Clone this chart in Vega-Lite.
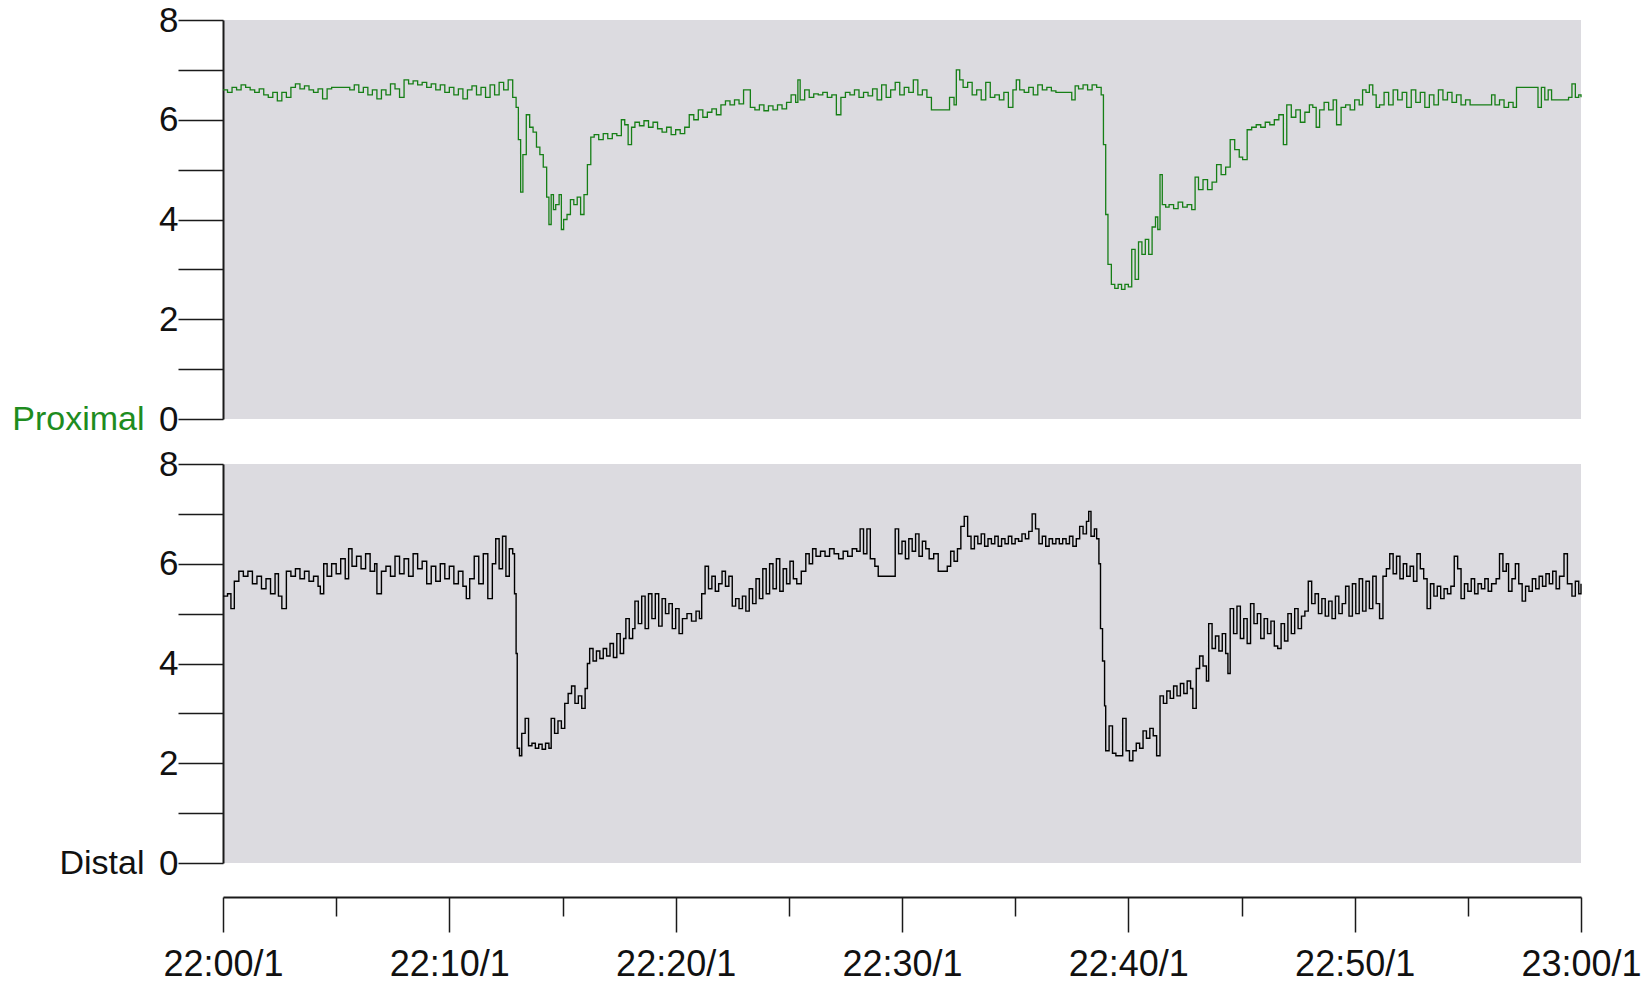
{
  "$schema": "https://vega.github.io/schema/vega-lite/v6.json",
  "padding": {"left": 11, "top": 3, "right": 5, "bottom": 0},
  "background": "white",
  "spacing": 45,
  "bounds": "flush",
  "config": {
    "view": {"fill": "#dcdbe0", "stroke": null},
    "axis": {"labelFont": "Liberation Sans", "titleFont": "Liberation Sans", "grid": false}
  },
  "datasets": {
    "prox": [
      {"t":0,"v":6.6},{"t":0.2,"v":6.55},{"t":0.4,"v":6.65},{"t":0.6,"v":6.6},{"t":0.8,"v":6.7},{"t":1.0,"v":6.65},{"t":1.2,"v":6.6},{"t":1.4,"v":6.55},{"t":1.6,"v":6.62},{"t":1.8,"v":6.5},
      {"t":2.0,"v":6.45},{"t":2.2,"v":6.55},{"t":2.4,"v":6.38},{"t":2.6,"v":6.55},{"t":2.8,"v":6.45},{"t":3.0,"v":6.65},{"t":3.2,"v":6.72},{"t":3.4,"v":6.62},{"t":3.6,"v":6.68},{"t":3.8,"v":6.6},
      {"t":4.0,"v":6.55},{"t":4.2,"v":6.62},{"t":4.4,"v":6.42},{"t":4.6,"v":6.62},{"t":4.8,"v":6.65},{"t":5.0,"v":6.65},{"t":5.2,"v":6.65},{"t":5.4,"v":6.65},{"t":5.6,"v":6.6},{"t":5.8,"v":6.7},
      {"t":6.0,"v":6.55},{"t":6.2,"v":6.65},{"t":6.4,"v":6.5},{"t":6.6,"v":6.6},{"t":6.8,"v":6.42},{"t":7.0,"v":6.6},{"t":7.2,"v":6.5},{"t":7.4,"v":6.72},{"t":7.6,"v":6.62},{"t":7.8,"v":6.45},
      {"t":8.0,"v":6.8},{"t":8.2,"v":6.72},{"t":8.4,"v":6.78},{"t":8.6,"v":6.7},{"t":8.8,"v":6.75},{"t":9.0,"v":6.65},{"t":9.2,"v":6.72},{"t":9.4,"v":6.6},{"t":9.6,"v":6.7},{"t":9.8,"v":6.55},
      {"t":10.0,"v":6.65},{"t":10.2,"v":6.5},{"t":10.4,"v":6.62},{"t":10.6,"v":6.42},{"t":10.8,"v":6.6},{"t":11.0,"v":6.68},{"t":11.2,"v":6.5},{"t":11.4,"v":6.65},{"t":11.6,"v":6.45},{"t":11.8,"v":6.7},
      {"t":12.0,"v":6.5},{"t":12.2,"v":6.75},{"t":12.4,"v":6.6},{"t":12.6,"v":6.8},{"t":12.8,"v":6.45},{"t":12.95,"v":6.25},{"t":13.05,"v":5.6},{"t":13.15,"v":4.55},{"t":13.25,"v":5.3},{"t":13.4,"v":6.1},
      {"t":13.55,"v":5.85},{"t":13.7,"v":5.75},{"t":13.85,"v":5.45},{"t":14.0,"v":5.3},{"t":14.15,"v":5.05},{"t":14.3,"v":4.45},{"t":14.4,"v":3.9},{"t":14.5,"v":4.5},{"t":14.6,"v":4.2},{"t":14.7,"v":4.3},
      {"t":14.85,"v":4.5},{"t":14.95,"v":3.8},{"t":15.05,"v":4.0},{"t":15.2,"v":4.1},{"t":15.35,"v":4.4},{"t":15.5,"v":4.3},{"t":15.65,"v":4.45},{"t":15.8,"v":4.1},{"t":15.95,"v":4.5},{"t":16.1,"v":5.1},
      {"t":16.25,"v":5.65},{"t":16.4,"v":5.7},{"t":16.6,"v":5.6},{"t":16.8,"v":5.72},{"t":17.0,"v":5.62},{"t":17.2,"v":5.72},{"t":17.4,"v":5.68},{"t":17.6,"v":6.0},{"t":17.75,"v":5.9},{"t":17.9,"v":5.5},
      {"t":18.05,"v":5.85},{"t":18.2,"v":5.95},{"t":18.4,"v":5.88},{"t":18.6,"v":5.98},{"t":18.8,"v":5.85},{"t":19.0,"v":5.95},{"t":19.2,"v":5.82},{"t":19.4,"v":5.75},{"t":19.6,"v":5.85},{"t":19.8,"v":5.7},
      {"t":20.0,"v":5.8},{"t":20.2,"v":5.72},{"t":20.4,"v":5.85},{"t":20.6,"v":6.1},{"t":20.8,"v":6.0},{"t":21.0,"v":6.2},{"t":21.2,"v":6.05},{"t":21.4,"v":6.15},{"t":21.6,"v":6.22},{"t":21.8,"v":6.1},
      {"t":22.0,"v":6.3},{"t":22.2,"v":6.38},{"t":22.4,"v":6.3},{"t":22.6,"v":6.4},{"t":22.8,"v":6.32},{"t":23.0,"v":6.6},{"t":23.15,"v":6.6},{"t":23.3,"v":6.25},{"t":23.5,"v":6.2},{"t":23.7,"v":6.3},
      {"t":23.9,"v":6.18},{"t":24.1,"v":6.28},{"t":24.3,"v":6.2},{"t":24.5,"v":6.3},{"t":24.7,"v":6.22},{"t":24.9,"v":6.35},{"t":25.1,"v":6.5},{"t":25.3,"v":6.35},{"t":25.4,"v":6.8},{"t":25.5,"v":6.4},
      {"t":25.7,"v":6.6},{"t":25.9,"v":6.45},{"t":26.1,"v":6.52},{"t":26.3,"v":6.5},{"t":26.5,"v":6.55},{"t":26.7,"v":6.45},{"t":26.9,"v":6.5},{"t":27.1,"v":6.1},{"t":27.3,"v":6.45},{"t":27.5,"v":6.55},
      {"t":27.7,"v":6.5},{"t":27.9,"v":6.6},{"t":28.1,"v":6.45},{"t":28.3,"v":6.55},{"t":28.5,"v":6.48},{"t":28.7,"v":6.62},{"t":28.9,"v":6.4},{"t":29.1,"v":6.7},{"t":29.3,"v":6.45},{"t":29.5,"v":6.6},
      {"t":29.7,"v":6.75},{"t":29.9,"v":6.5},{"t":30.1,"v":6.65},{"t":30.3,"v":6.55},{"t":30.5,"v":6.8},{"t":30.7,"v":6.5},{"t":30.9,"v":6.6},{"t":31.1,"v":6.45},{"t":31.3,"v":6.2},{"t":31.5,"v":6.2},
      {"t":31.7,"v":6.2},{"t":31.9,"v":6.2},{"t":32.1,"v":6.45},{"t":32.3,"v":6.3},{"t":32.4,"v":7.0},{"t":32.55,"v":6.8},{"t":32.7,"v":6.65},{"t":32.9,"v":6.75},{"t":33.1,"v":6.5},{"t":33.3,"v":6.6},
      {"t":33.5,"v":6.4},{"t":33.7,"v":6.75},{"t":33.9,"v":6.45},{"t":34.1,"v":6.5},{"t":34.3,"v":6.4},{"t":34.5,"v":6.55},{"t":34.7,"v":6.25},{"t":34.9,"v":6.6},{"t":35.05,"v":6.8},{"t":35.2,"v":6.6},
      {"t":35.4,"v":6.55},{"t":35.6,"v":6.65},{"t":35.8,"v":6.5},{"t":36.0,"v":6.7},{"t":36.2,"v":6.6},{"t":36.4,"v":6.65},{"t":36.6,"v":6.58},{"t":36.8,"v":6.55},{"t":37.0,"v":6.55},{"t":37.2,"v":6.55},
      {"t":37.4,"v":6.55},{"t":37.5,"v":6.4},{"t":37.65,"v":6.68},{"t":37.8,"v":6.62},{"t":38.0,"v":6.7},{"t":38.2,"v":6.6},{"t":38.4,"v":6.7},{"t":38.6,"v":6.65},{"t":38.8,"v":6.5},{"t":38.9,"v":5.5},
      {"t":39.0,"v":4.1},{"t":39.1,"v":3.1},{"t":39.25,"v":2.7},{"t":39.4,"v":2.62},{"t":39.55,"v":2.7},{"t":39.7,"v":2.6},{"t":39.85,"v":2.7},{"t":40.0,"v":2.65},{"t":40.15,"v":3.4},{"t":40.3,"v":2.8},
      {"t":40.45,"v":3.55},{"t":40.6,"v":3.3},{"t":40.75,"v":3.6},{"t":40.9,"v":3.3},{"t":41.05,"v":3.85},{"t":41.2,"v":4.05},{"t":41.3,"v":3.8},{"t":41.4,"v":4.9},{"t":41.5,"v":4.3},{"t":41.65,"v":4.25},
      {"t":41.8,"v":4.3},{"t":42.0,"v":4.22},{"t":42.2,"v":4.35},{"t":42.4,"v":4.25},{"t":42.6,"v":4.3},{"t":42.8,"v":4.2},{"t":42.95,"v":4.85},{"t":43.1,"v":4.6},{"t":43.3,"v":4.8},{"t":43.5,"v":4.6},
      {"t":43.7,"v":4.75},{"t":43.9,"v":5.1},{"t":44.1,"v":4.9},{"t":44.3,"v":5.05},{"t":44.5,"v":5.6},{"t":44.7,"v":5.4},{"t":44.9,"v":5.25},{"t":45.05,"v":5.2},{"t":45.25,"v":5.8},{"t":45.45,"v":5.85},
      {"t":45.65,"v":5.9},{"t":45.85,"v":5.85},{"t":46.05,"v":5.95},{"t":46.25,"v":5.9},{"t":46.45,"v":6.0},{"t":46.65,"v":6.1},{"t":46.85,"v":5.5},{"t":47.0,"v":6.3},{"t":47.2,"v":6.05},{"t":47.4,"v":6.2},
      {"t":47.6,"v":5.95},{"t":47.8,"v":6.15},{"t":48.0,"v":6.3},{"t":48.15,"v":6.25},{"t":48.3,"v":5.85},{"t":48.45,"v":6.2},{"t":48.65,"v":6.35},{"t":48.85,"v":6.2},{"t":49.05,"v":6.4},{"t":49.2,"v":5.9},
      {"t":49.4,"v":6.25},{"t":49.6,"v":6.3},{"t":49.8,"v":6.2},{"t":50.0,"v":6.4},{"t":50.2,"v":6.3},{"t":50.35,"v":6.6},{"t":50.5,"v":6.55},{"t":50.65,"v":6.7},{"t":50.8,"v":6.5},{"t":50.95,"v":6.25},
      {"t":51.1,"v":6.3},{"t":51.3,"v":6.55},{"t":51.5,"v":6.3},{"t":51.7,"v":6.6},{"t":51.9,"v":6.4},{"t":52.1,"v":6.55},{"t":52.3,"v":6.25},{"t":52.5,"v":6.6},{"t":52.7,"v":6.35},{"t":52.9,"v":6.55},
      {"t":53.1,"v":6.25},{"t":53.3,"v":6.5},{"t":53.5,"v":6.3},{"t":53.7,"v":6.6},{"t":53.9,"v":6.4},{"t":54.1,"v":6.55},{"t":54.3,"v":6.35},{"t":54.5,"v":6.5},{"t":54.7,"v":6.3},{"t":54.9,"v":6.4},
      {"t":55.1,"v":6.3},{"t":55.3,"v":6.3},{"t":55.5,"v":6.3},{"t":55.7,"v":6.3},{"t":55.9,"v":6.3},{"t":56.05,"v":6.5},{"t":56.2,"v":6.3},{"t":56.4,"v":6.4},{"t":56.6,"v":6.25},{"t":56.8,"v":6.35},
      {"t":57.0,"v":6.25},{"t":57.15,"v":6.65},{"t":57.35,"v":6.65},{"t":57.55,"v":6.65},{"t":57.75,"v":6.65},{"t":57.95,"v":6.65},{"t":58.1,"v":6.25},{"t":58.25,"v":6.65},{"t":58.4,"v":6.4},{"t":58.55,"v":6.6},
      {"t":58.7,"v":6.4},{"t":58.85,"v":6.4},{"t":59.05,"v":6.4},{"t":59.25,"v":6.4},{"t":59.45,"v":6.45},{"t":59.6,"v":6.72},{"t":59.75,"v":6.45},{"t":59.9,"v":6.5},{"t":60.0,"v":6.45}
    ],
    "dist": [
      {"t":0,"v":5.35},{"t":0.2,"v":5.4},{"t":0.35,"v":5.1},{"t":0.5,"v":5.65},{"t":0.7,"v":5.85},{"t":0.9,"v":5.75},{"t":1.1,"v":5.85},{"t":1.3,"v":5.6},{"t":1.5,"v":5.75},{"t":1.7,"v":5.5},
      {"t":1.9,"v":5.7},{"t":2.1,"v":5.4},{"t":2.3,"v":5.8},{"t":2.45,"v":5.35},{"t":2.6,"v":5.1},{"t":2.8,"v":5.85},{"t":3.0,"v":5.75},{"t":3.2,"v":5.9},{"t":3.4,"v":5.7},{"t":3.6,"v":5.85},
      {"t":3.8,"v":5.65},{"t":4.0,"v":5.75},{"t":4.2,"v":5.55},{"t":4.3,"v":5.4},{"t":4.45,"v":6.0},{"t":4.6,"v":5.75},{"t":4.8,"v":6.0},{"t":5.0,"v":5.8},{"t":5.2,"v":6.1},{"t":5.4,"v":5.7},
      {"t":5.55,"v":6.3},{"t":5.7,"v":5.95},{"t":5.9,"v":6.15},{"t":6.1,"v":5.9},{"t":6.3,"v":6.2},{"t":6.5,"v":5.85},{"t":6.7,"v":6.0},{"t":6.8,"v":5.4},{"t":7.0,"v":5.85},{"t":7.2,"v":5.95},
      {"t":7.4,"v":5.75},{"t":7.6,"v":6.15},{"t":7.8,"v":5.8},{"t":8.0,"v":6.1},{"t":8.2,"v":5.75},{"t":8.4,"v":6.2},{"t":8.6,"v":5.9},{"t":8.8,"v":6.05},{"t":9.0,"v":5.6},{"t":9.2,"v":5.95},
      {"t":9.4,"v":5.65},{"t":9.6,"v":6.0},{"t":9.8,"v":5.7},{"t":10.0,"v":5.95},{"t":10.2,"v":5.6},{"t":10.4,"v":5.85},{"t":10.6,"v":5.55},{"t":10.75,"v":5.3},{"t":10.9,"v":5.7},{"t":11.1,"v":6.15},
      {"t":11.3,"v":5.6},{"t":11.5,"v":6.2},{"t":11.7,"v":5.3},{"t":11.9,"v":6.0},{"t":12.05,"v":6.5},{"t":12.2,"v":5.9},{"t":12.35,"v":6.55},{"t":12.5,"v":5.75},{"t":12.65,"v":6.3},{"t":12.8,"v":6.2},
      {"t":12.88,"v":5.4},{"t":12.95,"v":4.2},{"t":13.0,"v":2.3},{"t":13.1,"v":2.15},{"t":13.2,"v":2.6},{"t":13.35,"v":2.9},{"t":13.5,"v":2.35},{"t":13.65,"v":2.4},{"t":13.8,"v":2.3},{"t":13.95,"v":2.38},
      {"t":14.1,"v":2.28},{"t":14.25,"v":2.4},{"t":14.4,"v":2.3},{"t":14.5,"v":2.9},{"t":14.65,"v":2.6},{"t":14.8,"v":2.85},{"t":14.95,"v":2.7},{"t":15.1,"v":3.2},{"t":15.25,"v":3.4},{"t":15.4,"v":3.55},
      {"t":15.55,"v":3.2},{"t":15.7,"v":3.35},{"t":15.85,"v":3.1},{"t":16.0,"v":3.5},{"t":16.1,"v":4.0},{"t":16.2,"v":4.3},{"t":16.35,"v":4.05},{"t":16.5,"v":4.25},{"t":16.65,"v":4.1},{"t":16.8,"v":4.3},
      {"t":16.95,"v":4.15},{"t":17.1,"v":4.4},{"t":17.25,"v":4.12},{"t":17.4,"v":4.6},{"t":17.55,"v":4.2},{"t":17.7,"v":4.5},{"t":17.8,"v":4.9},{"t":17.95,"v":4.5},{"t":18.1,"v":4.7},{"t":18.2,"v":5.25},
      {"t":18.35,"v":4.8},{"t":18.5,"v":5.35},{"t":18.65,"v":4.7},{"t":18.8,"v":5.4},{"t":18.95,"v":4.9},{"t":19.1,"v":5.4},{"t":19.25,"v":4.75},{"t":19.4,"v":5.3},{"t":19.55,"v":5.0},{"t":19.7,"v":5.2},
      {"t":19.85,"v":4.7},{"t":20.0,"v":5.1},{"t":20.15,"v":4.6},{"t":20.3,"v":4.9},{"t":20.5,"v":5.0},{"t":20.7,"v":4.85},{"t":20.9,"v":5.05},{"t":21.05,"v":4.9},{"t":21.15,"v":5.4},{"t":21.3,"v":5.95},
      {"t":21.45,"v":5.5},{"t":21.6,"v":5.75},{"t":21.75,"v":5.45},{"t":21.9,"v":5.6},{"t":22.05,"v":5.85},{"t":22.2,"v":5.55},{"t":22.35,"v":5.75},{"t":22.5,"v":5.15},{"t":22.65,"v":5.3},{"t":22.8,"v":5.1},
      {"t":22.95,"v":5.35},{"t":23.1,"v":5.05},{"t":23.25,"v":5.5},{"t":23.4,"v":5.2},{"t":23.55,"v":5.7},{"t":23.7,"v":5.3},{"t":23.85,"v":5.9},{"t":24.0,"v":5.4},{"t":24.15,"v":6.0},{"t":24.3,"v":5.5},
      {"t":24.45,"v":6.1},{"t":24.6,"v":5.45},{"t":24.75,"v":5.9},{"t":24.9,"v":5.6},{"t":25.05,"v":6.05},{"t":25.2,"v":5.7},{"t":25.35,"v":5.6},{"t":25.55,"v":5.85},{"t":25.75,"v":6.2},{"t":25.9,"v":6.0},
      {"t":26.05,"v":6.3},{"t":26.2,"v":6.15},{"t":26.4,"v":6.25},{"t":26.6,"v":6.15},{"t":26.8,"v":6.3},{"t":27.0,"v":6.2},{"t":27.2,"v":6.1},{"t":27.4,"v":6.25},{"t":27.6,"v":6.15},{"t":27.8,"v":6.3},
      {"t":28.0,"v":6.25},{"t":28.15,"v":6.7},{"t":28.3,"v":6.2},{"t":28.45,"v":6.7},{"t":28.6,"v":6.1},{"t":28.8,"v":5.95},{"t":28.95,"v":5.75},{"t":29.15,"v":5.75},{"t":29.35,"v":5.75},{"t":29.55,"v":5.75},
      {"t":29.7,"v":6.7},{"t":29.85,"v":6.2},{"t":30.0,"v":6.45},{"t":30.15,"v":6.1},{"t":30.3,"v":6.5},{"t":30.45,"v":6.25},{"t":30.6,"v":6.6},{"t":30.75,"v":6.15},{"t":30.9,"v":6.45},{"t":31.05,"v":6.3},
      {"t":31.2,"v":6.1},{"t":31.4,"v":6.2},{"t":31.6,"v":5.85},{"t":31.8,"v":5.85},{"t":32.0,"v":5.95},{"t":32.15,"v":6.25},{"t":32.3,"v":6.05},{"t":32.45,"v":6.3},{"t":32.6,"v":6.75},{"t":32.75,"v":6.95},
      {"t":32.9,"v":6.55},{"t":33.05,"v":6.3},{"t":33.2,"v":6.55},{"t":33.35,"v":6.4},{"t":33.5,"v":6.6},{"t":33.65,"v":6.35},{"t":33.8,"v":6.5},{"t":33.95,"v":6.4},{"t":34.1,"v":6.55},{"t":34.25,"v":6.35},
      {"t":34.4,"v":6.5},{"t":34.55,"v":6.4},{"t":34.7,"v":6.55},{"t":34.85,"v":6.4},{"t":35.0,"v":6.5},{"t":35.15,"v":6.45},{"t":35.3,"v":6.6},{"t":35.45,"v":6.5},{"t":35.6,"v":6.65},{"t":35.75,"v":7.0},
      {"t":35.9,"v":6.7},{"t":36.05,"v":6.4},{"t":36.2,"v":6.55},{"t":36.35,"v":6.35},{"t":36.5,"v":6.5},{"t":36.65,"v":6.4},{"t":36.8,"v":6.5},{"t":36.95,"v":6.4},{"t":37.1,"v":6.5},{"t":37.25,"v":6.4},
      {"t":37.4,"v":6.55},{"t":37.55,"v":6.35},{"t":37.7,"v":6.5},{"t":37.85,"v":6.75},{"t":38.0,"v":6.6},{"t":38.15,"v":6.85},{"t":38.25,"v":7.05},{"t":38.35,"v":6.55},{"t":38.5,"v":6.7},{"t":38.6,"v":6.5},
      {"t":38.7,"v":6.0},{"t":38.77,"v":4.7},{"t":38.86,"v":4.05},{"t":38.95,"v":3.15},{"t":39.0,"v":2.25},{"t":39.15,"v":2.75},{"t":39.3,"v":2.2},{"t":39.45,"v":2.15},{"t":39.6,"v":2.15},{"t":39.75,"v":2.9},
      {"t":39.9,"v":2.25},{"t":40.05,"v":2.05},{"t":40.2,"v":2.25},{"t":40.35,"v":2.4},{"t":40.5,"v":2.3},{"t":40.65,"v":2.65},{"t":40.8,"v":2.5},{"t":40.95,"v":2.7},{"t":41.1,"v":2.55},{"t":41.25,"v":2.15},
      {"t":41.4,"v":3.35},{"t":41.55,"v":3.2},{"t":41.7,"v":3.45},{"t":41.85,"v":3.3},{"t":42.0,"v":3.55},{"t":42.15,"v":3.35},{"t":42.3,"v":3.6},{"t":42.45,"v":3.4},{"t":42.6,"v":3.65},{"t":42.75,"v":3.5},
      {"t":42.85,"v":3.1},{"t":43.0,"v":3.9},{"t":43.15,"v":4.15},{"t":43.3,"v":3.95},{"t":43.45,"v":3.65},{"t":43.55,"v":4.8},{"t":43.7,"v":4.3},{"t":43.85,"v":4.55},{"t":44.0,"v":4.25},{"t":44.15,"v":4.6},
      {"t":44.3,"v":4.2},{"t":44.4,"v":3.8},{"t":44.5,"v":5.1},{"t":44.65,"v":4.6},{"t":44.8,"v":5.15},{"t":44.95,"v":4.5},{"t":45.1,"v":4.9},{"t":45.25,"v":4.4},{"t":45.4,"v":5.2},{"t":45.55,"v":4.8},
      {"t":45.7,"v":5.0},{"t":45.85,"v":4.5},{"t":46.0,"v":4.9},{"t":46.15,"v":4.6},{"t":46.3,"v":4.85},{"t":46.45,"v":4.35},{"t":46.6,"v":4.3},{"t":46.75,"v":4.8},{"t":46.9,"v":4.45},{"t":47.05,"v":5.0},
      {"t":47.2,"v":4.6},{"t":47.35,"v":5.1},{"t":47.5,"v":4.7},{"t":47.65,"v":4.95},{"t":47.8,"v":5.05},{"t":47.95,"v":5.65},{"t":48.1,"v":5.2},{"t":48.25,"v":5.4},{"t":48.4,"v":5.0},{"t":48.55,"v":5.3},
      {"t":48.7,"v":4.95},{"t":48.85,"v":5.25},{"t":49.0,"v":4.9},{"t":49.15,"v":5.35},{"t":49.3,"v":5.0},{"t":49.45,"v":5.2},{"t":49.6,"v":5.55},{"t":49.75,"v":4.95},{"t":49.9,"v":5.6},{"t":50.05,"v":5.0},
      {"t":50.2,"v":5.7},{"t":50.35,"v":5.05},{"t":50.5,"v":5.65},{"t":50.65,"v":5.1},{"t":50.8,"v":5.75},{"t":50.95,"v":5.2},{"t":51.1,"v":4.9},{"t":51.25,"v":5.75},{"t":51.4,"v":5.9},{"t":51.55,"v":6.2},
      {"t":51.7,"v":5.8},{"t":51.85,"v":6.15},{"t":52.0,"v":5.7},{"t":52.15,"v":6.0},{"t":52.3,"v":5.75},{"t":52.45,"v":5.95},{"t":52.6,"v":5.65},{"t":52.75,"v":6.2},{"t":52.9,"v":5.9},{"t":53.05,"v":5.7},
      {"t":53.2,"v":5.1},{"t":53.35,"v":5.6},{"t":53.5,"v":5.35},{"t":53.65,"v":5.55},{"t":53.8,"v":5.3},{"t":53.95,"v":5.5},{"t":54.1,"v":5.4},{"t":54.25,"v":5.55},{"t":54.4,"v":6.15},{"t":54.55,"v":5.9},
      {"t":54.7,"v":5.3},{"t":54.85,"v":5.6},{"t":55.0,"v":5.45},{"t":55.15,"v":5.7},{"t":55.3,"v":5.4},{"t":55.45,"v":5.6},{"t":55.6,"v":5.5},{"t":55.75,"v":5.7},{"t":55.9,"v":5.45},{"t":56.05,"v":5.6},
      {"t":56.25,"v":5.7},{"t":56.4,"v":6.2},{"t":56.55,"v":5.85},{"t":56.7,"v":6.0},{"t":56.8,"v":5.45},{"t":56.95,"v":5.7},{"t":57.1,"v":6.0},{"t":57.25,"v":5.6},{"t":57.4,"v":5.25},{"t":57.55,"v":5.55},
      {"t":57.7,"v":5.45},{"t":57.85,"v":5.7},{"t":58.0,"v":5.5},{"t":58.15,"v":5.75},{"t":58.3,"v":5.55},{"t":58.45,"v":5.8},{"t":58.6,"v":5.6},{"t":58.75,"v":5.85},{"t":58.9,"v":5.5},{"t":59.05,"v":5.75},
      {"t":59.25,"v":6.2},{"t":59.4,"v":5.6},{"t":59.6,"v":5.35},{"t":59.75,"v":5.65},{"t":59.9,"v":5.4},{"t":60.0,"v":5.6}
    ]
  },
  "vconcat": [
    {
      "width": 1358,
      "height": 399,
      "layer": [
        {
          "data": {"name": "prox"},
          "mark": {"type": "line", "interpolate": "step-after", "color": "#167f16", "strokeWidth": 1.3},
          "encoding": {
            "x": {"field": "t", "type": "quantitative", "scale": {"domain": [0, 60], "nice": false}, "axis": null},
            "y": {
              "field": "v", "type": "quantitative", "scale": {"domain": [0, 8], "nice": false},
              "axis": {
                "values": [0, 1, 2, 3, 4, 5, 6, 7, 8],
                "labelExpr": "datum.value % 2 == 0 ? datum.label : ''",
                "tickSize": 45, "tickColor": "#1a1a1a", "tickWidth": 1.5,
                "domainColor": "#1a1a1a", "domainWidth": 2,
                "labelFontSize": 35, "labelColor": "#111111", "labelPadding": 0,
                "labelOverlap": false, "labelBound": false, "labelFlush": false,
                "title": "Proximal", "titleColor": "#1e8c1e", "titleFontSize": 34, "titleFontWeight": "normal",
                "titleAngle": 0, "titleAlign": "right", "titleBaseline": "middle", "titleX": -79, "titleY": 399
              }
            }
          }
        },
        {
          "mark": {"type": "rule", "color": "#e8383d", "strokeDash": [14, 13, 2, 13], "strokeWidth": 1.3},
          "encoding": {"y": {"datum": 4}}
        },
        {
          "mark": {"type": "rule", "color": "#222222", "strokeWidth": 2},
          "encoding": {"y": {"datum": 0}}
        }
      ]
    },
    {
      "width": 1358,
      "height": 399,
      "layer": [
        {
          "data": {"name": "dist"},
          "mark": {"type": "line", "interpolate": "step-after", "color": "#000000", "strokeWidth": 1.4},
          "encoding": {
            "x": {
              "field": "t", "type": "quantitative", "scale": {"domain": [0, 60], "nice": false},
              "axis": {
                "values": [0, 5, 10, 15, 20, 25, 30, 35, 40, 45, 50, 55, 60],
                "offset": 34,
                "tickSize": {"condition": {"test": "datum.value % 10 === 0", "value": 35}, "value": 19},
                "labelExpr": "datum.value % 10 === 0 ? (datum.value === 60 ? '23:00/1' : '22:' + (datum.value === 0 ? '00' : datum.value) + '/1') : ''",
                "labelFontSize": 36, "labelColor": "#111111", "labelPadding": 15,
                "labelOverlap": false, "labelBound": false, "labelFlush": false,
                "domainColor": "#1a1a1a", "domainWidth": 2, "tickColor": "#1a1a1a", "tickWidth": 1.5,
                "title": null
              }
            },
            "y": {
              "field": "v", "type": "quantitative", "scale": {"domain": [0, 8], "nice": false},
              "axis": {
                "values": [0, 1, 2, 3, 4, 5, 6, 7, 8],
                "labelExpr": "datum.value % 2 == 0 ? datum.label : ''",
                "tickSize": 45, "tickColor": "#1a1a1a", "tickWidth": 1.5,
                "domainColor": "#1a1a1a", "domainWidth": 2,
                "labelFontSize": 35, "labelColor": "#111111", "labelPadding": 0,
                "labelOverlap": false, "labelBound": false, "labelFlush": false,
                "title": "Distal", "titleColor": "#111111", "titleFontSize": 34, "titleFontWeight": "normal",
                "titleAngle": 0, "titleAlign": "right", "titleBaseline": "middle", "titleX": -79, "titleY": 399
              }
            }
          }
        },
        {
          "mark": {"type": "rule", "color": "#e8383d", "strokeDash": [14, 13, 2, 13], "strokeWidth": 1.3},
          "encoding": {"y": {"datum": 4}}
        },
        {
          "mark": {"type": "rule", "color": "#222222", "strokeWidth": 2},
          "encoding": {"y": {"datum": 0}}
        }
      ]
    }
  ]
}
